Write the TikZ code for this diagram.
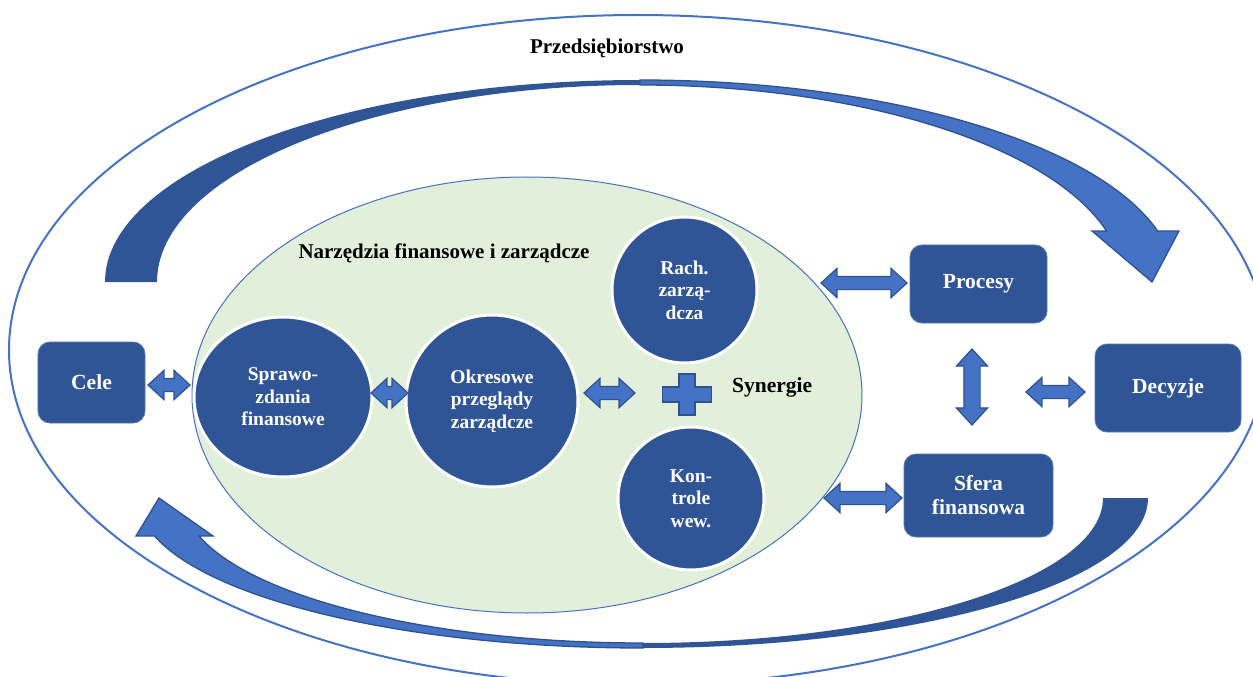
\documentclass[tikz,border=0pt]{standalone}
\usepackage{fontspec}
\setmainfont{Liberation Serif}
\usetikzlibrary{shapes.geometric,shapes.arrows}
\definecolor{navy}{HTML}{2F5597}
\definecolor{bright}{HTML}{4472C4}
\definecolor{rim}{HTML}{2F528F}
\definecolor{mint}{HTML}{E2EFDA}
\begin{document}
\begin{tikzpicture}[x=1bp,y=-1bp,
  box/.style={rectangle, rounded corners=12bp, fill=navy, draw=navy!80!white,
    line width=0.8bp, text=white, align=center, inner sep=0pt,
    font=\bfseries\fontsize{21.5bp}{24bp}\selectfont},
  disc/.style={ellipse, fill=navy, draw=white, line width=3bp, text=white,
    align=center, inner sep=0pt,
    font=\bfseries\fontsize{19.5bp}{22.5bp}\selectfont},
  dbl/.style={double arrow, fill=bright, draw=rim, line width=1.2bp,
    inner xsep=0pt, inner ysep=6bp, double arrow head extend=8bp,
    double arrow tip angle=85, text height=0pt, text depth=0pt,
    minimum width=0pt, minimum height=#1},
  heading/.style={font=\bfseries\fontsize{21bp}{24bp}\selectfont,
    text=black, inner sep=0pt},
  backband/.style={fill=navy},
  frontband/.style={fill=bright, draw=rim, line width=1.3bp, line join=miter},
]
\useasboundingbox (0,0) rectangle (1253,677);
\clip (0,0) rectangle (1253,677);

% enterprise boundary
\draw[bright, line width=2bp] (638,350) ellipse[x radius=629, y radius=335];
\node[heading, anchor=base] (firm) at (607,54) {Przedsiębiorstwo};

% upper curved arrow: back part, then front part with head
\path[backband] (105,282) arc[start angle=180, end angle=270, x radius=535, y radius=202]
  -- (640,85) arc[start angle=270, end angle=180, x radius=483, y radius=197] -- cycle;
\path[frontband] (640,80) arc[start angle=270, end angle=345.4, x radius=535, y radius=202]
  -- (1179,231) -- (1152,282) -- (1092,231) -- (1106.5,231)
  arc[start angle=345, end angle=270, x radius=483, y radius=197] -- cycle;

% lower curved arrow: back part, then front part with head
\path[backband] (1148,498) arc[start angle=0, end angle=90, x radius=505, y radius=150]
  -- (643,643) arc[start angle=90, end angle=0, x radius=460, y radius=145] -- cycle;
\path[frontband] (643,648) arc[start angle=90, end angle=165.33, x radius=505, y radius=150]
  -- (136,536) -- (159,498) -- (213,536) -- (199.1,536)
  arc[start angle=164.81, end angle=90, x radius=460, y radius=145] -- cycle;

% tools area
\filldraw[fill=mint, draw=bright, line width=1bp] (527,395) ellipse[x radius=335, y radius=218];
\node[heading, anchor=base] (tools) at (444,258) {Narzędzia finansowe i zarządcze};

\node[disc, minimum width=178bp, minimum height=160bp] (spr) at (283,397) {Sprawo-\\zdania\\finansowe};
\node[disc, minimum width=172bp, minimum height=172bp] (okr) at (492,401) {Okresowe\\przeglądy\\zarządcze};
\node[disc, minimum width=145bp, minimum height=146bp] (rach) at (684.5,290) {Rach.\\zarzą-\\dcza};
\node[disc, minimum width=146bp, minimum height=143bp] (kont) at (691,498.5) {Kon-\\trole\\wew.};

% synergy mark
\filldraw[fill=bright, draw=rim, line width=1.2bp, shift={(687,394.5)}]
  (-8,-20.5) -- (8,-20.5) -- (8,-7.5) -- (24.5,-7.5) -- (24.5,7.5) -- (8,7.5)
  -- (8,20.5) -- (-8,20.5) -- (-8,7.5) -- (-24.5,7.5) -- (-24.5,-7.5) -- (-8,-7.5) -- cycle;
\node[heading, anchor=base west, font=\bfseries\fontsize{21.5bp}{24bp}\selectfont] (syn) at (732,392) {Synergie};

% blocks
\node[box, minimum width=107bp, minimum height=81bp] (cele) at (91.5,382.5) {Cele};
\node[box, minimum width=137bp, minimum height=78bp] (proc) at (978.5,284) {Procesy};
\node[box, minimum width=146bp, minimum height=88bp] (dec) at (1168,388) {Decyzje};
\node[box, minimum width=149bp, minimum height=83bp] (sfera) at (978.5,495.5) {Sfera\\finansowa};

% two-way links
\node[dbl=42bp] (l1) at (169,385) {};
\node[dbl=37bp] (l2) at (389.5,393) {};
\node[dbl=51bp] (l3) at (609.5,393) {};
\node[dbl=86bp] (l4) at (864,283) {};
\node[dbl=76bp, rotate=90, inner ysep=7.5bp, double arrow head extend=7.5bp] (l5) at (972,387) {};
\node[dbl=59bp] (l6) at (1055.5,392) {};
\node[dbl=78bp] (l7) at (863,498) {};
\end{tikzpicture}
\end{document}
